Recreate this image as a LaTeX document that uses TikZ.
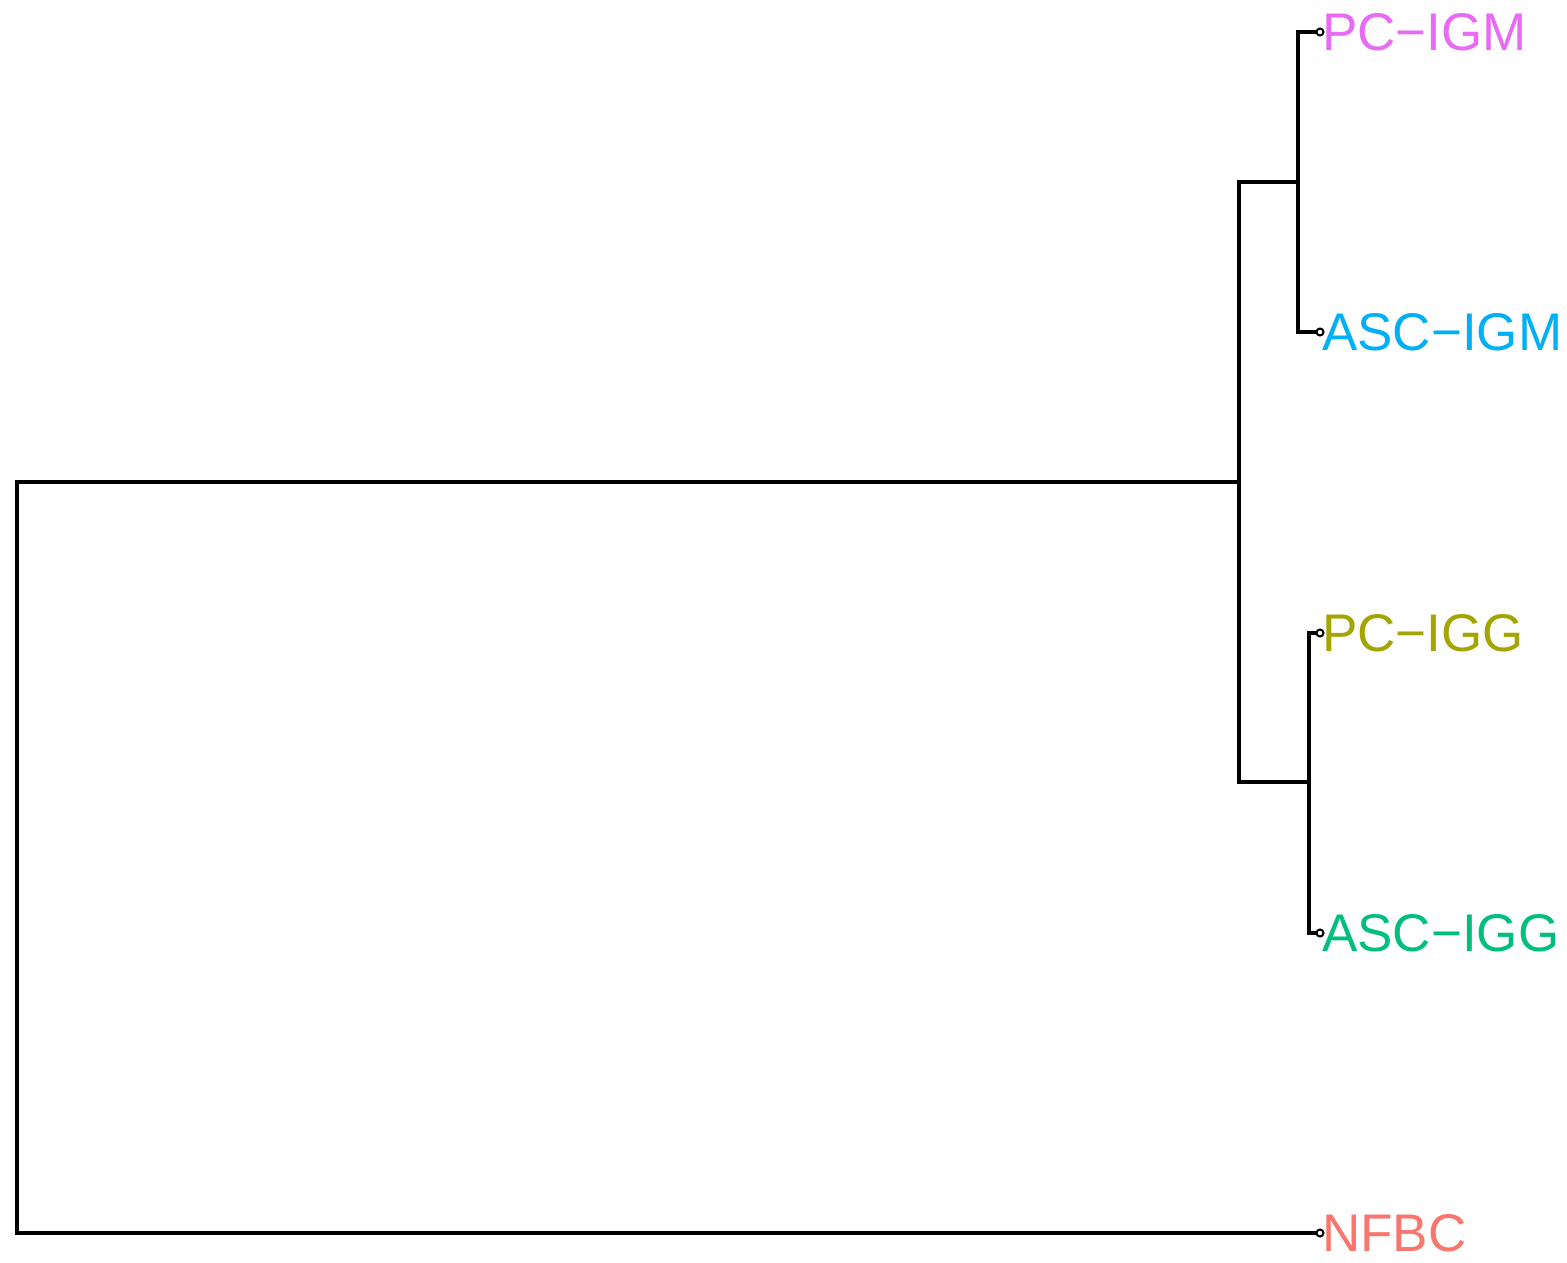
\documentclass[tikz,border=0pt]{standalone}
\usepackage{fontspec}
\setmainfont{Liberation Sans}
\definecolor{colNFBC}{HTML}{F8766D}
\definecolor{colPCIGG}{HTML}{A3A500}
\definecolor{colASCIGG}{HTML}{00BF7D}
\definecolor{colASCIGM}{HTML}{00B0F6}
\definecolor{colPCIGM}{HTML}{E76BF3}
\tikzset{
  branch/.style={line width=3.6pt, line cap=rect},
  tip/.style={circle, draw, line width=2pt, fill=white, inner sep=0pt, minimum size=7pt},
  leaflabel/.style={anchor=west, inner sep=0pt, font=\fontsize{53}{60}\selectfont}
}
\begin{document}
\begin{tikzpicture}[x=1pt, y=-1pt]
          \useasboundingbox (0,0) rectangle (1567,1262);
          % leaves
          \coordinate (pcigm) at (1320, 32);
          \coordinate (ascigm) at (1320, 332);
          \coordinate (pcigg) at (1320, 633);
          \coordinate (ascigg) at (1320, 933);
          \coordinate (nfbc) at (1320, 1233);
          % merges
          \coordinate (igm) at (1298, 182);
          \coordinate (igg) at (1309, 782);
          \coordinate (ascpc) at (1239, 482);
          \coordinate (root) at (17, 858);
          \draw [branch] (pcigm) -| (igm) |- (ascigm);
          \draw [branch] (pcigg) -| (igg) |- (ascigg);
          \draw [branch] (igm) -| (ascpc) |- (igg);
          \draw [branch] (ascpc) -| (root) |- (nfbc);
          \foreach \leaf in {pcigm, ascigm, pcigg, ascigg, nfbc}
            \node [tip] at (\leaf) {};
          \node [leaflabel, text=colPCIGM] (lpcigm) at (1322, 32) {PC−IGM};
          \node [leaflabel, text=colASCIGM] (lascigm) at (1322, 332) {ASC−IGM};
          \node [leaflabel, text=colPCIGG] (lpcigg) at (1322, 633) {PC−IGG};
          \node [leaflabel, text=colASCIGG] (lascigg) at (1322, 933) {ASC−IGG};
          \node [leaflabel, text=colNFBC] (lnfbc) at (1322, 1233) {NFBC};
        \end{tikzpicture}
\end{document}
